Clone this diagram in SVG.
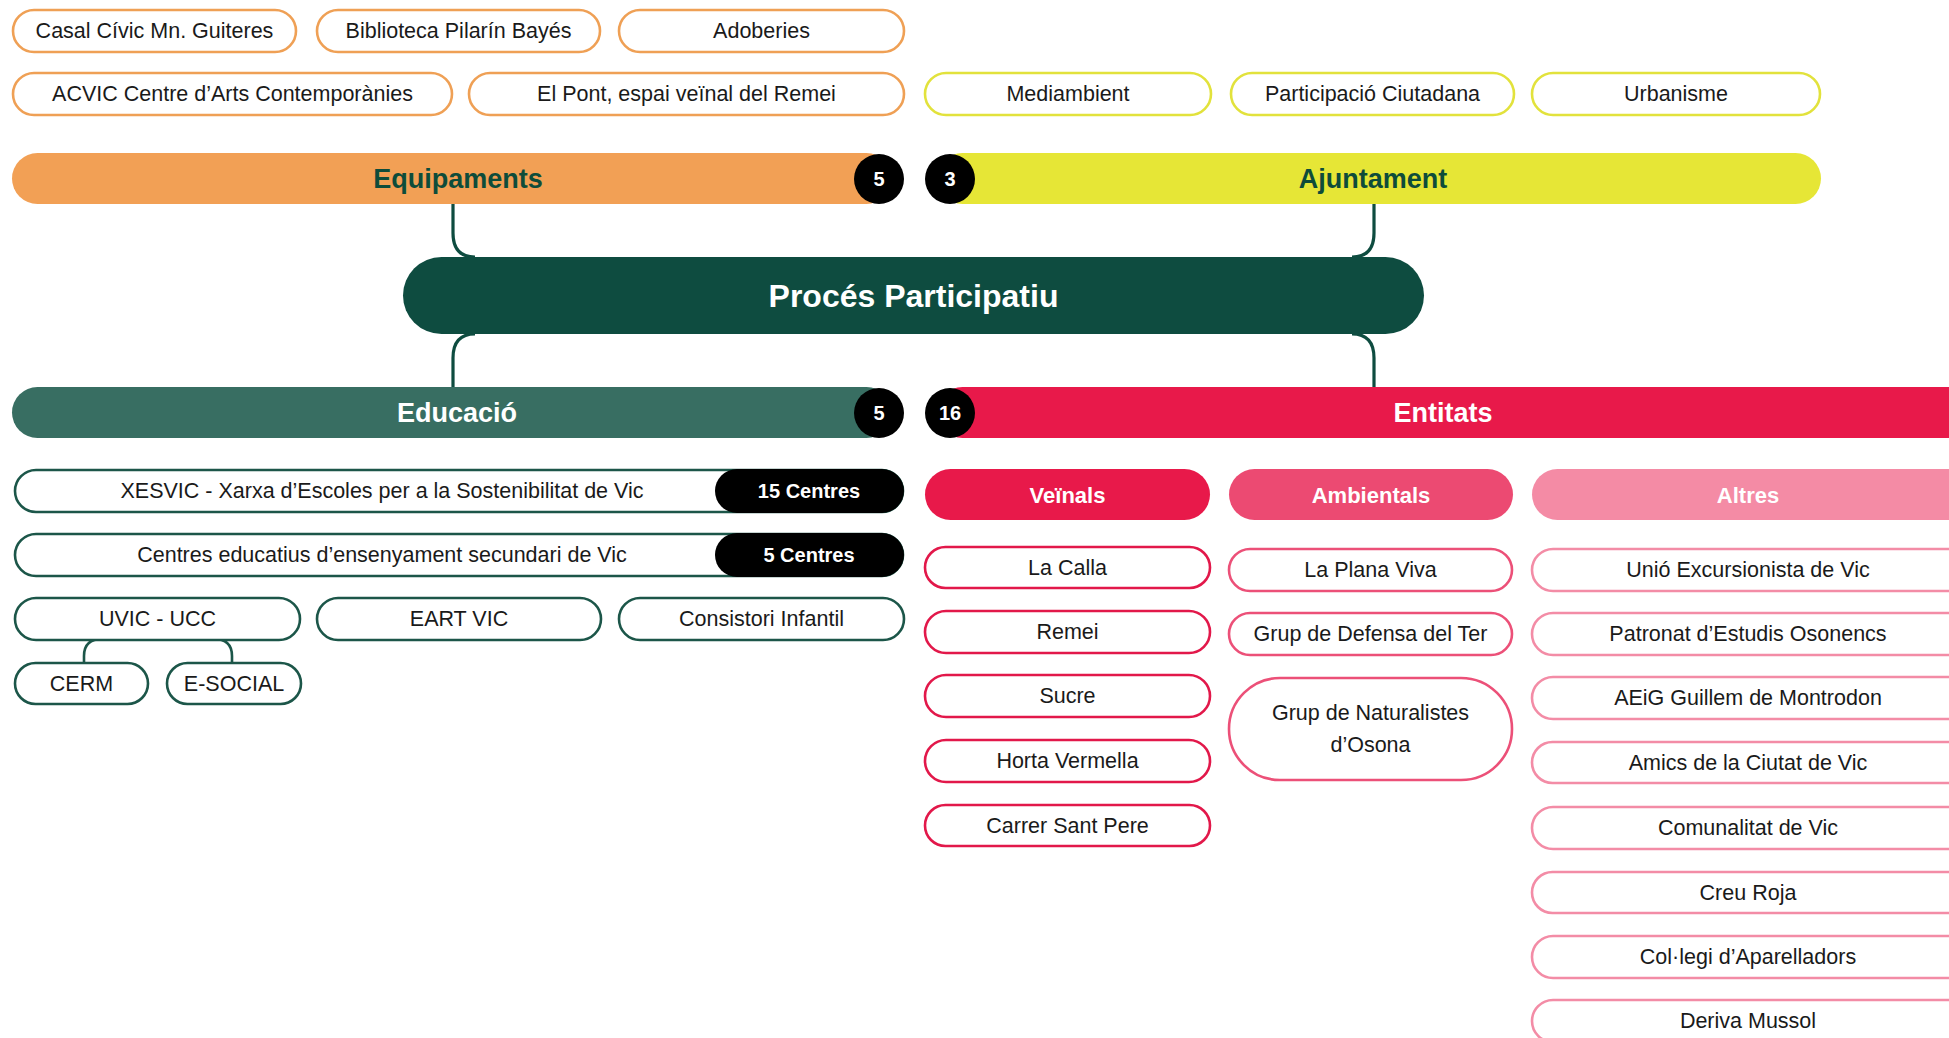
<svg xmlns="http://www.w3.org/2000/svg" width="1949" height="1038" viewBox="0 0 1949 1038">
<style>
text{font-family:"Liberation Sans",Arial,sans-serif;text-anchor:middle;dominant-baseline:central}
.t{font-size:21.5px;fill:#1a1a1a}
.b{font-weight:bold}
.pill{fill:#fff;stroke-width:2.6}
.po{stroke:#EFA055}
.py{stroke:#E2E23C}
.pg{stroke:#1C5649}
.pr{stroke:#E2184A}
.pa{stroke:#EC5078}
.pp{stroke:#F38CA6}
.badge{fill:#000}
.bt{fill:#fff;font-weight:bold;font-size:20px}
.ht{font-weight:bold;font-size:27px}
.st{font-weight:bold;font-size:22px;fill:#fff}
.conn{fill:none;stroke:#0E4C40;stroke-width:3.2}
.conn2{fill:none;stroke:#1C5649;stroke-width:2.6}
</style>

<g id="connectors">
<path class="conn" d="M453,204 V233 Q453,257 475,257"/>
<path class="conn" d="M475,334 Q453,334 453,358 V388"/>
<path class="conn" d="M1374,204 V233 Q1374,257 1352,257"/>
<path class="conn" d="M1352,334 Q1374,334 1374,358 V388"/>
<path class="conn2" d="M84,664 V656 Q84,639 102,639 H214 Q232,639 232,656 V664"/>
</g>

<!-- Equipaments -->
<g id="casal"><rect class="pill po" x="13" y="10" width="283" height="42" rx="21"/><text class="t" x="154.5" y="31">Casal Cívic Mn. Guiteres</text></g>
<g id="biblioteca"><rect class="pill po" x="317" y="10" width="283" height="42" rx="21"/><text class="t" x="458.5" y="31">Biblioteca Pilarín Bayés</text></g>
<g id="adoberies"><rect class="pill po" x="619" y="10" width="285" height="42" rx="21"/><text class="t" x="761.5" y="31">Adoberies</text></g>
<g id="acvic"><rect class="pill po" x="13" y="73" width="439" height="42" rx="21"/><text class="t" x="232.5" y="94">ACVIC Centre d’Arts Contemporànies</text></g>
<g id="elpont"><rect class="pill po" x="469" y="73" width="435" height="42" rx="21"/><text class="t" x="686.5" y="94">El Pont, espai veïnal del Remei</text></g>

<g id="equipaments">
<rect x="12" y="153" width="880" height="51" rx="25.5" fill="#F2A055"/>
<text class="ht" x="458" y="179" fill="#0E4C3A">Equipaments</text>
<circle class="badge" cx="879" cy="179" r="25"/><text class="bt" x="879" y="179">5</text>
</g>

<!-- Ajuntament -->
<g id="mediambient"><rect class="pill py" x="925" y="73" width="286" height="42" rx="21"/><text class="t" x="1068" y="94">Mediambient</text></g>
<g id="participacio"><rect class="pill py" x="1231" y="73" width="283" height="42" rx="21"/><text class="t" x="1372.5" y="94">Participació Ciutadana</text></g>
<g id="urbanisme"><rect class="pill py" x="1532" y="73" width="288" height="42" rx="21"/><text class="t" x="1676" y="94">Urbanisme</text></g>

<g id="ajuntament">
<rect x="937" y="153" width="884" height="51" rx="25.5" fill="#E6E636"/>
<text class="ht" x="1373" y="179" fill="#0E4C3A">Ajuntament</text>
<circle class="badge" cx="950" cy="179" r="25"/><text class="bt" x="950" y="179">3</text>
</g>

<g id="proces">
<rect x="403" y="257" width="1021" height="77" rx="38.5" fill="#0E4C40"/>
<text class="b" x="913.5" y="296" font-size="32" fill="#fff">Procés Participatiu</text>
</g>

<!-- Educació -->
<g id="educacio">
<rect x="12" y="387" width="880" height="51" rx="25.5" fill="#386E62"/>
<text class="ht" x="457" y="413" fill="#fff">Educació</text>
<circle class="badge" cx="879" cy="413" r="25"/><text class="bt" x="879" y="413">5</text>
</g>

<g id="xesvic"><rect class="pill pg" x="15" y="470" width="888" height="42" rx="21"/><rect x="715" y="469" width="189" height="44" rx="22" fill="#000"/>
<text class="t" x="382" y="491">XESVIC - Xarxa d’Escoles per a la Sostenibilitat de Vic</text><text class="bt" x="809" y="491" font-size="21">15 Centres</text></g>
<g id="centres"><rect class="pill pg" x="15" y="534" width="888" height="42" rx="21"/><rect x="715" y="533" width="189" height="44" rx="22" fill="#000"/>
<text class="t" x="382" y="555">Centres educatius d’ensenyament secundari de Vic</text><text class="bt" x="809" y="555" font-size="21">5 Centres</text></g>
<g id="uvic"><rect class="pill pg" x="15" y="598" width="285" height="42" rx="21"/><text class="t" x="157.5" y="619">UVIC - UCC</text></g>
<g id="eartvic"><rect class="pill pg" x="317" y="598" width="284" height="42" rx="21"/><text class="t" x="459" y="619">EART VIC</text></g>
<g id="consistori"><rect class="pill pg" x="619" y="598" width="285" height="42" rx="21"/><text class="t" x="761.5" y="619">Consistori Infantil</text></g>
<g id="cerm"><rect class="pill pg" x="15" y="663" width="133" height="41" rx="20.5"/><text class="t" x="81.5" y="683.5">CERM</text></g>
<g id="esocial"><rect class="pill pg" x="167" y="663" width="134" height="41" rx="20.5"/><text class="t" x="234" y="683.5">E-SOCIAL</text></g>

<!-- Entitats -->
<g id="entitats">
<rect x="937" y="387" width="1040" height="51" rx="25.5" fill="#E8194A"/>
<text class="ht" x="1443" y="413" fill="#fff">Entitats</text>
<circle class="badge" cx="950" cy="413" r="25"/><text class="bt" x="950" y="413">16</text>
</g>

<g id="veinals"><rect x="925" y="469" width="285" height="51" rx="25.5" fill="#E8194A"/><text class="st" x="1067.5" y="495">Veïnals</text></g>
<g id="ambientals"><rect x="1229" y="469" width="284" height="51" rx="25.5" fill="#EC4A72"/><text class="st" x="1371" y="495">Ambientals</text></g>
<g id="altres"><rect x="1532" y="469" width="440" height="51" rx="25.5" fill="#F48BA5"/><text class="st" x="1748" y="495">Altres</text></g>

<g id="lacalla"><rect class="pill pr" x="925" y="547" width="285" height="41" rx="20.5"/><text class="t" x="1067.5" y="567.5">La Calla</text></g>
<g id="remei"><rect class="pill pr" x="925" y="611" width="285" height="42" rx="21"/><text class="t" x="1067.5" y="632">Remei</text></g>
<g id="sucre"><rect class="pill pr" x="925" y="675" width="285" height="42" rx="21"/><text class="t" x="1067.5" y="696">Sucre</text></g>
<g id="horta"><rect class="pill pr" x="925" y="740" width="285" height="42" rx="21"/><text class="t" x="1067.5" y="761">Horta Vermella</text></g>
<g id="santpere"><rect class="pill pr" x="925" y="805" width="285" height="41" rx="20.5"/><text class="t" x="1067.5" y="825.5">Carrer Sant Pere</text></g>

<g id="planaviva"><rect class="pill pa" x="1229" y="549" width="283" height="42" rx="21"/><text class="t" x="1370.5" y="570">La Plana Viva</text></g>
<g id="defensater"><rect class="pill pa" x="1229" y="613" width="283" height="42" rx="21"/><text class="t" x="1370.5" y="634">Grup de Defensa del Ter</text></g>
<g id="naturalistes"><rect class="pill pa" x="1229" y="678" width="283" height="102" rx="51"/><text class="t" x="1370.5" y="713">Grup de Naturalistes</text><text class="t" x="1370.5" y="745">d’Osona</text></g>

<g id="unio"><rect class="pill pp" x="1532" y="549" width="440" height="42" rx="21"/><text class="t" x="1748" y="570">Unió Excursionista de Vic</text></g>
<g id="patronat"><rect class="pill pp" x="1532" y="613" width="440" height="42" rx="21"/><text class="t" x="1748" y="634">Patronat d’Estudis Osonencs</text></g>
<g id="aeig"><rect class="pill pp" x="1532" y="677" width="440" height="42" rx="21"/><text class="t" x="1748" y="698">AEiG Guillem de Montrodon</text></g>
<g id="amics"><rect class="pill pp" x="1532" y="742" width="440" height="41" rx="20.5"/><text class="t" x="1748" y="762.5">Amics de la Ciutat de Vic</text></g>
<g id="comunalitat"><rect class="pill pp" x="1532" y="807" width="440" height="42" rx="21"/><text class="t" x="1748" y="828">Comunalitat de Vic</text></g>
<g id="creuroja"><rect class="pill pp" x="1532" y="872" width="440" height="41" rx="20.5"/><text class="t" x="1748" y="892.5">Creu Roja</text></g>
<g id="collegi"><rect class="pill pp" x="1532" y="936" width="440" height="42" rx="21"/><text class="t" x="1748" y="957">Col·legi d’Aparelladors</text></g>
<g id="deriva"><rect class="pill pp" x="1532" y="1000" width="440" height="42" rx="21"/><text class="t" x="1748" y="1021">Deriva Mussol</text></g>
</svg>
